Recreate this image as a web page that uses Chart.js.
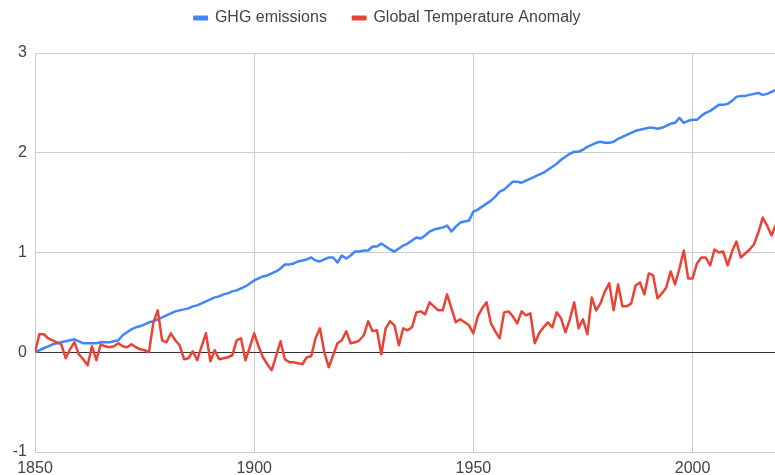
<!DOCTYPE html>
<html>
<head>
<meta charset="utf-8">
<script src="https://cdn.jsdelivr.net/npm/chart.js@4.4.0/dist/chart.umd.min.js"></script>
<style>
  html, body { margin: 0; padding: 0; background: #fff; }
</style>
</head>
<body>
<canvas id="chart" width="775" height="475"></canvas>
<script>
const firstYear = 1850;
const xTicks = [1850, 1900, 1950, 2000];

// one value per year, 1850 .. 2019
const ghgEmissions = [
  0.00, 0.02, 0.04, 0.06, 0.08, 0.09, 0.10, 0.11, 0.12, 0.13,
  0.11, 0.09, 0.09, 0.09, 0.09, 0.10, 0.10, 0.10, 0.11, 0.12,
  0.17, 0.20, 0.23, 0.25, 0.26, 0.28, 0.30, 0.31, 0.33, 0.35,
  0.37, 0.39, 0.41, 0.42, 0.43, 0.44, 0.46, 0.47, 0.49, 0.51,
  0.53, 0.55, 0.56, 0.58, 0.59, 0.61, 0.62, 0.64, 0.66, 0.69,
  0.72, 0.74, 0.76, 0.77, 0.79, 0.81, 0.84, 0.88, 0.88, 0.89,
  0.91, 0.92, 0.93, 0.95, 0.92, 0.91, 0.93, 0.95, 0.95, 0.90,
  0.97, 0.94, 0.97, 1.01, 1.01, 1.02, 1.02, 1.06, 1.06, 1.09,
  1.06, 1.03, 1.01, 1.04, 1.07, 1.09, 1.12, 1.15, 1.14, 1.17,
  1.21, 1.23, 1.24, 1.25, 1.27, 1.21, 1.26, 1.30, 1.31, 1.32,
  1.41, 1.43, 1.46, 1.49, 1.52, 1.56, 1.61, 1.63, 1.67, 1.71,
  1.71, 1.70, 1.72, 1.74, 1.76, 1.78, 1.80, 1.83, 1.86, 1.89,
  1.93, 1.96, 1.99, 2.01, 2.01, 2.03, 2.06, 2.08, 2.10, 2.11,
  2.10, 2.10, 2.11, 2.14, 2.16, 2.18, 2.20, 2.22, 2.23, 2.24,
  2.25, 2.25, 2.24, 2.25, 2.27, 2.29, 2.30, 2.35, 2.30, 2.32,
  2.33, 2.33, 2.37, 2.40, 2.42, 2.45, 2.48, 2.48, 2.49, 2.52,
  2.56, 2.57, 2.57, 2.58, 2.59, 2.60, 2.58, 2.59, 2.61, 2.63
];

const tempAnomaly = [
  0.00, 0.18, 0.18, 0.14, 0.12, 0.10, 0.08, -0.06, 0.03, 0.10,
  -0.02, -0.07, -0.13, 0.06, -0.08, 0.08, 0.06, 0.05, 0.06, 0.09,
  0.06, 0.05, 0.08, 0.05, 0.03, 0.02, 0.00, 0.30, 0.42, 0.12,
  0.10, 0.19, 0.12, 0.07, -0.07, -0.06, 0.01, -0.08, 0.06, 0.19,
  -0.09, 0.02, -0.07, -0.06, -0.05, -0.03, 0.12, 0.14, -0.08, 0.05,
  0.19, 0.06, -0.05, -0.12, -0.18, -0.04, 0.11, -0.07, -0.10, -0.10,
  -0.11, -0.12, -0.05, -0.04, 0.14, 0.24, 0.00, -0.15, -0.03, 0.09,
  0.12, 0.21, 0.09, 0.10, 0.12, 0.17, 0.31, 0.21, 0.22, -0.02,
  0.24, 0.31, 0.27, 0.07, 0.24, 0.22, 0.25, 0.40, 0.41, 0.38,
  0.50, 0.46, 0.42, 0.42, 0.58, 0.44, 0.30, 0.33, 0.30, 0.27,
  0.19, 0.36, 0.44, 0.50, 0.29, 0.21, 0.14, 0.40, 0.41, 0.36,
  0.29, 0.41, 0.37, 0.39, 0.09, 0.19, 0.25, 0.30, 0.25, 0.40,
  0.34, 0.20, 0.33, 0.50, 0.24, 0.33, 0.18, 0.55, 0.42, 0.49,
  0.61, 0.69, 0.42, 0.68, 0.46, 0.46, 0.49, 0.67, 0.70, 0.58,
  0.79, 0.77, 0.54, 0.59, 0.65, 0.81, 0.68, 0.84, 1.02, 0.74,
  0.74, 0.89, 0.95, 0.95, 0.87, 1.03, 1.00, 1.01, 0.87, 1.01,
  1.11, 0.95, 0.99, 1.03, 1.08, 1.20, 1.35, 1.27, 1.17, 1.28
];

const years = ghgEmissions.map((v, i) => firstYear + i);

// legend padding is wide for the gaps between items, so the legend is
// pulled up (negative top padding) and the plot pushed back down here
const legendMargin = {
  id: 'legendMargin',
  beforeInit(chart) {
    const fit = chart.legend.fit;
    chart.legend.fit = function () {
      fit.bind(chart.legend)();
      this.height += 17;
    };
  }
};

const textColor = '#444';
const gridColor = '#cccccc';
const font = { family: 'Arial, "Liberation Sans", sans-serif', size: 16 };

new Chart(document.getElementById('chart'), {
  type: 'line',
  data: {
    labels: years,
    datasets: [{
      label: 'GHG emissions',
      data: ghgEmissions,
      borderColor: '#4285f4',
      backgroundColor: '#4285f4',
      borderWidth: 2.5,
      order: 1
    }, {
      label: 'Global Temperature Anomaly',
      data: tempAnomaly,
      borderColor: '#ea4335',
      backgroundColor: '#ea4335',
      borderWidth: 2.5,
      order: 0
    }]
  },
  options: {
    responsive: false,
    animation: false,
    layout: { padding: { top: -16, left: 0, right: 0, bottom: 0 } },
    elements: {
      point: { radius: 0 },
      line: { tension: 0, borderJoinStyle: 'round', fill: false }
    },
    plugins: {
      legend: {
        position: 'top',
        labels: {
          boxWidth: 12.5,
          boxHeight: 2.5,
          padding: 26,
          color: textColor,
          font: font,
          sort: (a, b) => a.datasetIndex - b.datasetIndex
        }
      },
      tooltip: { enabled: false }
    },
    scales: {
      x: {
        type: 'linear',
        min: 1850,
        max: 2018.8,
        afterBuildTicks: scale => { scale.ticks = xTicks.map(v => ({ value: v })); },
        afterFit: scale => { scale.height = 23; },
        grid: { color: gridColor, drawTicks: false },
        border: { color: gridColor },
        ticks: {
          padding: 7,
          color: textColor,
          maxRotation: 0,
          font: font,
          callback: v => String(v)
        }
      },
      y: {
        min: -1,
        max: 3,
        afterFit: scale => { scale.width = 35; },
        grid: {
          drawTicks: false,
          color: ctx => (ctx.tick && ctx.tick.value === 0 ? '#333333' : gridColor)
        },
        border: { color: gridColor },
        ticks: {
          stepSize: 1,
          padding: 8,
          color: textColor,
          font: font
        }
      }
    }
  },
  plugins: [legendMargin]
});
</script>
</body>
</html>
